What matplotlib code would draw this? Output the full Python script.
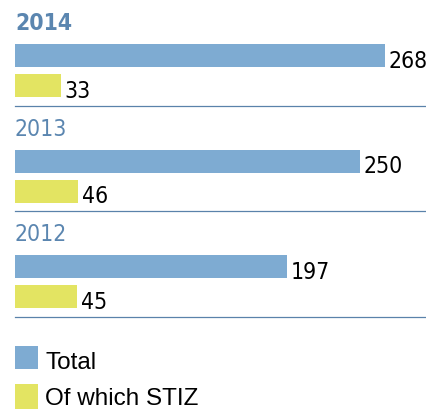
import matplotlib
matplotlib.use('Agg')
import matplotlib.pyplot as plt
from matplotlib.patches import Rectangle

# Data
years = ['2014', '2013', '2012']
total = [268, 250, 197]
stiz = [33, 46, 45]
legend_labels = ['Total', 'Of which STIZ']

blue = '#7eabd2'
yellow = '#e3e462'
year_color = '#5b86b0'
line_color = '#5a82aa'

W, H = 427, 410
fig = plt.figure(figsize=(W / 100, H / 100), dpi=100)
ax = fig.add_axes([0, 0, 1, 1])

# pixel layout: bars start at x=15, ~1.38 px per unit
x0, scale = 15, 1.38
ax.set_xlim(-x0 / scale, (W - x0) / scale)
ax.set_ylim(H, 0)
ax.axis('off')

narrow = dict(family='DejaVu Sans', fontstretch='condensed', fontsize=16.5)
bar_h = 23
group_step = 105.5
for i, yr in enumerate(years):
    yc_total = 56.5 + i * group_step
    yc_stiz = yc_total + 30
    ax.barh(yc_total, total[i], height=bar_h, left=0, color=blue)
    ax.barh(yc_stiz, stiz[i], height=bar_h, left=0, color=yellow)
    ax.text(total[i] + 4 / scale, yc_total + bar_h / 2, str(total[i]),
            va='baseline', ha='left', color='black', **narrow)
    ax.text(stiz[i] + 4 / scale, yc_stiz + bar_h / 2, str(stiz[i]),
            va='baseline', ha='left', color='black', **narrow)
    ax.text(0, yc_total - bar_h / 2 - 14.5, yr, va='baseline', ha='left',
            color=year_color, fontweight='bold' if i == 0 else 'normal', **narrow)
    ax.axhline(yc_stiz + 20, xmin=15 / W, xmax=425 / W, color=line_color, lw=0.9)

# legend
patch_h = [23, 25]
text_base = [369.5, 405]
for j, (lab, col) in enumerate(zip(legend_labels, [blue, yellow])):
    top = 347 + j * 38
    fig.add_artist(Rectangle((15 / W, 1 - (top + patch_h[j]) / H), 23 / W, patch_h[j] / H,
                             transform=fig.transFigure, color=col, lw=0))
    fig.text(45 / W, 1 - text_base[j] / H, lab, va='baseline', ha='left',
             fontsize=17.5, family=['Liberation Sans', 'DejaVu Sans'], color='black')

fig.savefig('out.png', dpi=100)
